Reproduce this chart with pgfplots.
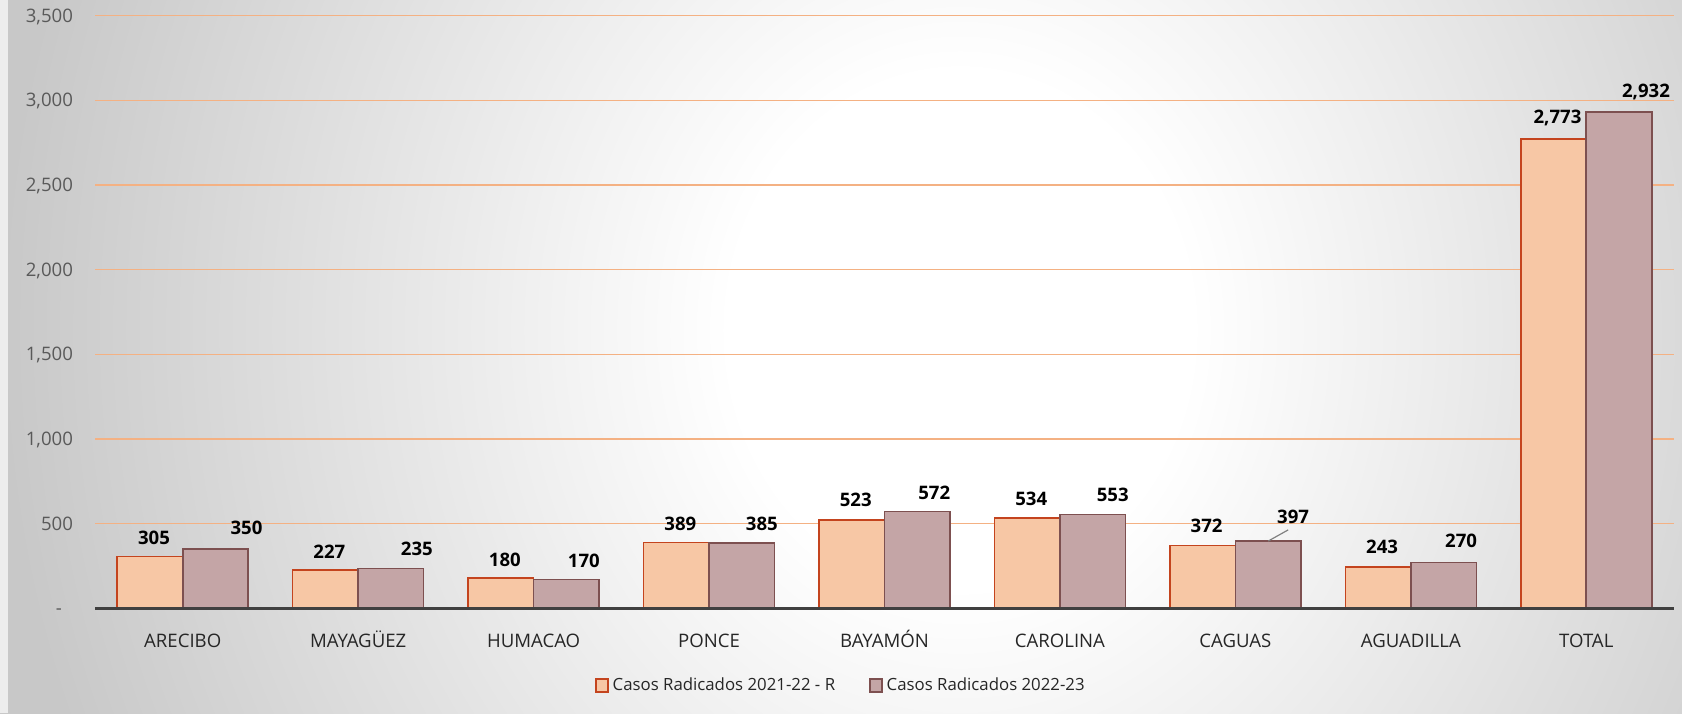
\documentclass[border=0pt]{standalone}
\usepackage{pgfplots}
\pgfplotsset{compat=1.18}
\usepackage{pgfplotstable}
\usepackage{fontspec}
\setmainfont{Open Sans}
\definecolor{bgray}{RGB}{200,200,200}
\definecolor{fillA}{RGB}{247,199,165}
\definecolor{lineA}{RGB}{196,68,30}
\definecolor{fillB}{RGB}{196,165,166}
\definecolor{lineB}{RGB}{125,80,80}
\definecolor{gridc}{RGB}{244,177,131}
\definecolor{axisc}{RGB}{64,64,64}
\pgfdeclareradialshading{bgshade}{\pgfpoint{0bp}{0bp}}{color(0bp)=(white); color(6bp)=(white); color(25bp)=(bgray); color(50bp)=(bgray)}

\pgfplotstableread{
x y dx dy
0 305 2 9.6
1 227 2 9.0
2 180 2 9.15
3 389 2 9.15
4 523 2 9.75
5 534 2 9.75
6 372 2 9.5
7 243 2 10
8 2773 2 10.35
}\dataA
\pgfplotstableread{
x y dx dy
0 350 15.5 10.65
1 235 13 10
2 170 8.75 9.35
3 385 10 9.5
4 572 8.5 9.25
5 553 10 9.75
6 397 12.5 12
7 270 8.75 11
8 2932 13.5 9.9
}\dataB

\begin{document}
\begin{tikzpicture}
\begin{scope}
\clip (0,0) rectangle (841pt,356.5pt);
\shade[shading=bgshade] (0pt,-343.5pt) rectangle (960pt,726.5pt);
\fill[black!7] (0,0) rectangle (4pt,356.5pt);
\end{scope}
\begin{axis}[
  at={(47.5pt,52.35pt)}, anchor=south west,
  scale only axis, width=789.5pt, height=296.3pt,
  xmin=-0.5, xmax=8.5, ymin=0, ymax=3500,
  clip=false,
  ybar=0pt, bar width=32.75pt,
  axis line style={draw=none},
  tick style={draw=none},
  xtick={0,...,8},
  xticklabels={ARECIBO,MAYAGÜEZ,HUMACAO,PONCE,BAYAMÓN,CAROLINA,CAGUAS,AGUADILLA,TOTAL},
  xticklabel style={anchor=base, yshift=-15.1pt, font=\fontsize{9.3}{11}\selectfont, text=black!85},
  ytick={0,500,...,3500},
  yticklabels={{-\kern5.5pt},500,{1,000},{1,500},{2,000},{2,500},{3,000},{3,500}},
  yticklabel style={anchor=base east, yshift=-3.3pt, xshift=-7.5pt, font=\fontsize{9.3}{11}\selectfont, text=black!65},
  ymajorgrids, grid style={draw=gridc, line width=0.7pt},
  /pgf/number format/assume math mode=true,
  /pgf/number format/1000 sep={,},
  legend image code/.code={\draw[#1] (0pt,-3.2pt) rectangle (6pt,3.2pt);},
  legend style={at={(0.473,-0.1304)}, anchor=center, draw=none, fill=none,
    legend columns=2, font=\fontsize{8.4}{10}\selectfont, text=black!85,
    /tikz/every even column/.append style={column sep=15pt}},
]
\addplot[ybar, fill=fillA, draw=lineA, line width=0.8pt,
  visualization depends on={\thisrow{dx}\as\dx},
  visualization depends on={\thisrow{dy}\as\dy},
  nodes near coords,
  every node near coord/.append style={anchor=center, xshift=\dx*1pt, yshift=\dy*1pt,
    font=\bfseries\fontsize{9.3}{11}\selectfont, text=black, draw=none, fill=none}]
  table[x=x,y=y] {\dataA};
\addlegendentry{Casos Radicados 2021-22 - R}
\addplot[ybar, fill=fillB, draw=lineB, line width=0.8pt,
  visualization depends on={\thisrow{dx}\as\dx},
  visualization depends on={\thisrow{dy}\as\dy},
  nodes near coords,
  every node near coord/.append style={anchor=center, xshift=\dx*1pt, yshift=\dy*1pt,
    font=\bfseries\fontsize{9.3}{11}\selectfont, text=black, draw=none, fill=none}]
  table[x=x,y=y] {\dataB};
\addlegendentry{Casos Radicados 2022-23}
\draw[black!50, line width=0.6pt] ([xshift=16.4pt]axis cs:6,397) -- ++(10pt,5.6pt);
\draw[axisc, line width=1.6pt] (axis cs:-0.5,0) -- (axis cs:8.5,0);
\end{axis}
\pgfresetboundingbox
\path (0,0) rectangle (841pt,356.5pt);
\end{tikzpicture}
\end{document}
